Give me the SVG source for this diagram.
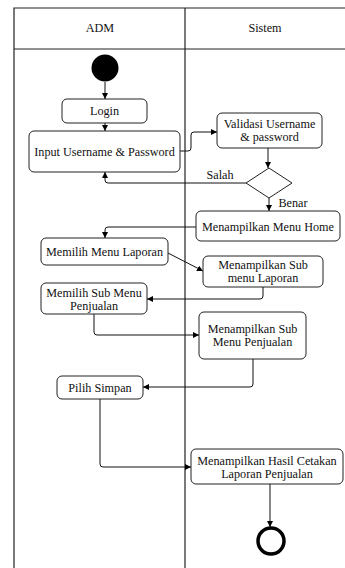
<svg xmlns="http://www.w3.org/2000/svg" width="345" height="568" viewBox="0 0 345 568">
<defs>
<marker id="ah" markerUnits="userSpaceOnUse" markerWidth="7" markerHeight="6" refX="6" refY="3" orient="auto">
<path d="M0,0 L6,3 L0,6 z" fill="#000"/>
</marker>
<style>
.lane{fill:none;stroke:#222;stroke-width:1.2}
.box{fill:#fff;stroke:#222;stroke-width:1}
.t{font-family:"Liberation Serif","Times New Roman",serif;font-size:12.2px;fill:#111;text-anchor:middle}
.c{fill:none;stroke:#111;stroke-width:1;marker-end:url(#ah)}
</style>
</defs>
<rect width="345" height="568" fill="#fff"/>
<g id="swimlanes">
<path class="lane" d="M14,568 V8 H346 M14,49 H346 M185,8 V568"/>
<text class="t" x="100" y="32">ADM</text>
<text class="t" x="265" y="32">Sistem</text>
</g>
<g id="connectors">
<path class="c" d="M105,82 V99"/>
<path class="c" d="M105,123 V131"/>
<path class="c" d="M180,151 H188 Q191,151 191,148 V135 Q191,132 194,132 H217"/>
<path class="c" d="M268,148 V168"/>
<path class="c" d="M246,183 H108 Q105,183 105,180 V172"/>
<path class="c" d="M269,198 V211"/>
<path class="c" d="M196,227 H108 Q105,227 105,230 V238"/>
<path class="c" d="M168,253 L203,271"/>
<path class="c" d="M263,287 V296 Q263,299 260,299 H147"/>
<path class="c" d="M94,314 V332 Q94,335 97,335 H199"/>
<path class="c" d="M253,359 V384 Q253,387 250,387 H143"/>
<path class="c" d="M100,399 V464 Q100,467 103,467 H191"/>
<path class="c" d="M270,484 V527"/>
<text class="t" x="220" y="179">Salah</text>
<text class="t" x="293" y="207">Benar</text>
</g>
<g id="start"><circle cx="105" cy="68" r="13.5" fill="#000"/></g>
<g id="login"><rect class="box" x="62" y="99" width="85" height="24" rx="5"/><text class="t" x="104.5" y="115">Login</text></g>
<g id="input"><rect class="box" x="29" y="131" width="151" height="41" rx="5"/><text class="t" x="104.5" y="156">Input Username &amp; Password</text></g>
<g id="validasi"><rect class="box" x="217" y="113" width="105" height="35" rx="5"/><text class="t" x="269.5" y="128">Validasi Username</text><text class="t" x="269.5" y="141">&amp; password</text></g>
<g id="decision"><path d="M269,168 L292,183 L269,198 L246,183 z" fill="#fff" stroke="#222" stroke-width="1"/></g>
<g id="home"><rect class="box" x="196" y="211" width="144" height="30" rx="5"/><text class="t" x="268" y="231">Menampilkan Menu Home</text></g>
<g id="laporan"><rect class="box" x="41" y="238" width="127" height="27" rx="5"/><text class="t" x="104.5" y="256">Memilih Menu Laporan</text></g>
<g id="sublaporan"><rect class="box" x="203" y="256" width="120" height="31" rx="5"/><text class="t" x="263" y="268.5">Menampilkan Sub</text><text class="t" x="263" y="282">menu Laporan</text></g>
<g id="memilihsub"><rect class="box" x="41" y="283" width="106" height="31" rx="5"/><text class="t" x="94" y="296.5">Memilih Sub Menu</text><text class="t" x="94" y="310">Penjualan</text></g>
<g id="subpenjualan"><rect class="box" x="199" y="312" width="107" height="47" rx="5"/><text class="t" x="252.5" y="332.5">Menampilkan Sub</text><text class="t" x="252.5" y="346">Menu Penjualan</text></g>
<g id="simpan"><rect class="box" x="57" y="376" width="86" height="23" rx="5"/><text class="t" x="100" y="392">Pilih Simpan</text></g>
<g id="hasil"><rect class="box" x="191" y="449" width="152" height="35" rx="5"/><text class="t" x="267" y="464.5">Menampilkan Hasil Cetakan</text><text class="t" x="267" y="478">Laporan Penjualan</text></g>
<g id="end"><circle cx="271" cy="541" r="13" fill="#fff" stroke="#000" stroke-width="3.5"/></g>
</svg>
